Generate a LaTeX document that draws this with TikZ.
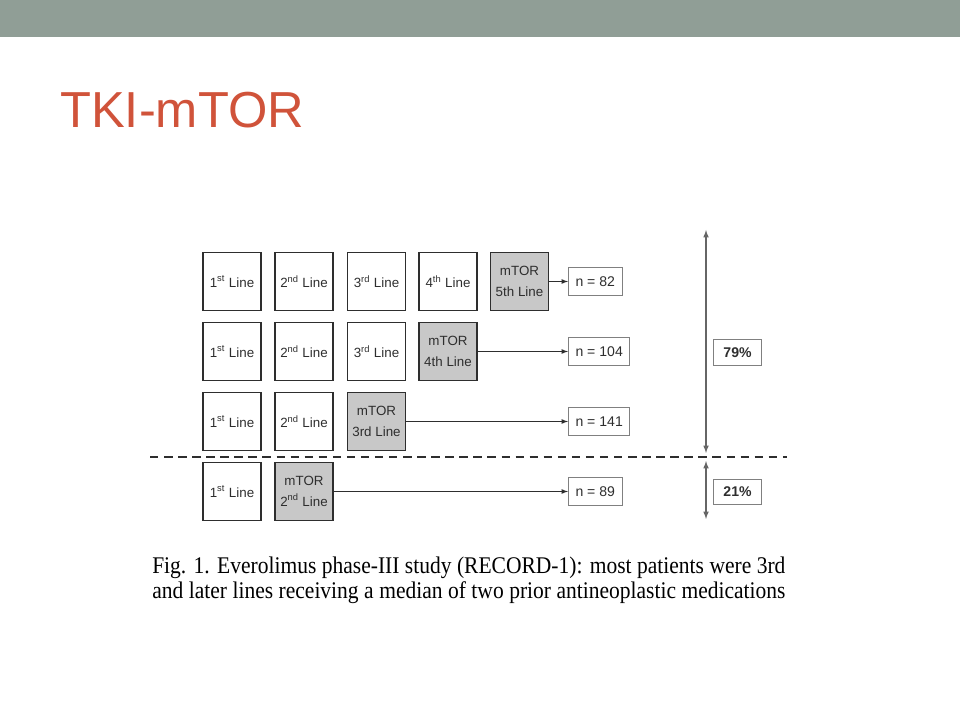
\documentclass[tikz,border=0pt]{standalone}
\usepackage{fontspec}
\setmainfont{Liberation Serif}
\setsansfont{Liberation Sans}
\newfontfamily\capfont[FakeStretch=0.9]{Liberation Serif}
\usetikzlibrary{positioning, arrows.meta}
\definecolor{barGray}{HTML}{909E96}
\definecolor{titleRed}{HTML}{D0533A}
\definecolor{mtorGray}{HTML}{C8C8C8}
\definecolor{inkGray}{HTML}{2E2E2E}
\begin{document}
\begin{tikzpicture}[
        x=0.025cm, y=-0.025cm,
        line/.style={% For the treatment line boxes
            rectangle,
            draw=inkGray,
            line width=1.3pt,
            minimum size=1.45cm,
            inner sep=0pt,
            align=center,
            text=inkGray,
            font=\sffamily\fontsize{9.5}{14.5}\selectfont
            },
        mtor/.style={% For the mTOR boxes
            line,
            fill=mtorGray,
            },
        count/.style={% For the number of patients
            rectangle,
            draw=gray,
            line width=0.7pt,
            anchor=west,
            minimum height=0.7cm,
            inner xsep=5pt,
            text=inkGray,
            font=\sffamily\fontsize{10}{12}\selectfont
            },
        share/.style={% For the percentages
            count,
            anchor=center,
            minimum width=1.18cm,
            minimum height=0.63cm,
            font=\sffamily\bfseries\fontsize{10}{12}\selectfont
            },
        caption/.style={% For the two lines of the figure caption
            anchor=base west,
            inner sep=0pt,
            text=black,
            font=\capfont\fontsize{17}{20}\selectfont
            },
        ArrowN/.style={% Arrows to the counts
            -latex,
            draw=inkGray,
            line width=0.6pt,
            },
        ArrowP/.style={% Arrows with two heads
            latex-latex,
            draw=gray!80!black,
            line width=0.8pt,
            },
            ]
         \useasboundingbox (0,0) rectangle (960,720);
         \fill[barGray] (0,0) rectangle (960,37);
         \node[anchor=base west, text=titleRed, inner sep=0pt, font=\sffamily\fontsize{36}{40}\selectfont] (title) at (60,128) {TKI-mTOR};
            % Row 1
            \node[line] (b11) at (232,281.5) {1\textsuperscript{st} Line};
            \node[line] (b12) at (304,281.5) {2\textsuperscript{nd} Line};
            \node[line] (b13) at (376.5,281.5) {3\textsuperscript{rd} Line};
            \node[line] (b14) at (448,281.5) {4\textsuperscript{th} Line};
            \node[mtor] (b15) at (519.5,281.5) {mTOR\\5th Line};
            % Row 2
            \node[line] (b21) at (232,351.5) {1\textsuperscript{st} Line};
            \node[line] (b22) at (304,351.5) {2\textsuperscript{nd} Line};
            \node[line] (b23) at (376.5,351.5) {3\textsuperscript{rd} Line};
            \node[mtor] (b24) at (448,351.5) {mTOR\\4th Line};
            % Row 3
            \node[line] (b31) at (232,421.5) {1\textsuperscript{st} Line};
            \node[line] (b32) at (304,421.5) {2\textsuperscript{nd} Line};
            \node[mtor] (b33) at (376.5,421.5) {mTOR\\3rd Line};
            % Row 4
            \node[line] (b41) at (232,491.5) {1\textsuperscript{st} Line};
            \node[mtor] (b42) at (304,491.5) {mTOR\\2\textsuperscript{nd} Line};
            % Counts named n#
            \node[count] (n1) at (568,281.5) {n = 82};
            \node[count] (n2) at (568,351.5) {n = 104};
            \node[count] (n3) at (568,421.5) {n = 141};
            \node[count] (n4) at (568,491.5) {n = 89};
            \draw[ArrowN] (b15) -- (n1);
            \draw[ArrowN] (b24) -- (n2);
            \draw[ArrowN] (b33) -- (n3);
            \draw[ArrowN] (b42) -- (n4);
         \coordinate (dl) at (150,457);
         \coordinate (dr) at (787,457);
	  \draw[inkGray, line width=1.4pt, dash pattern=on 6pt off 4pt] (dl) -- (dr);
         \coordinate (a1) at (706,230);
         \coordinate (a2) at (706,453);
         \coordinate (a3) at (706,461);
         \coordinate (a4) at (706,519);
	  \draw[ArrowP] (a1) -- (a2);
	  \draw[ArrowP] (a3) -- (a4);
         \node[share] (p1) at (737.5,352.5) {79\%};
         \node[share] (p2) at (737.5,492) {21\%};
         \node[caption] (cap1) at (152,574) {\makebox[15.825cm][s]{Fig. 1. Everolimus phase-III study (RECORD-1): most patients were 3rd}};
         \node[caption] (cap2) at (152,599) {\makebox[15.825cm][s]{and later lines receiving a median of two prior antineoplastic medications}};
        \end{tikzpicture}
\end{document}
